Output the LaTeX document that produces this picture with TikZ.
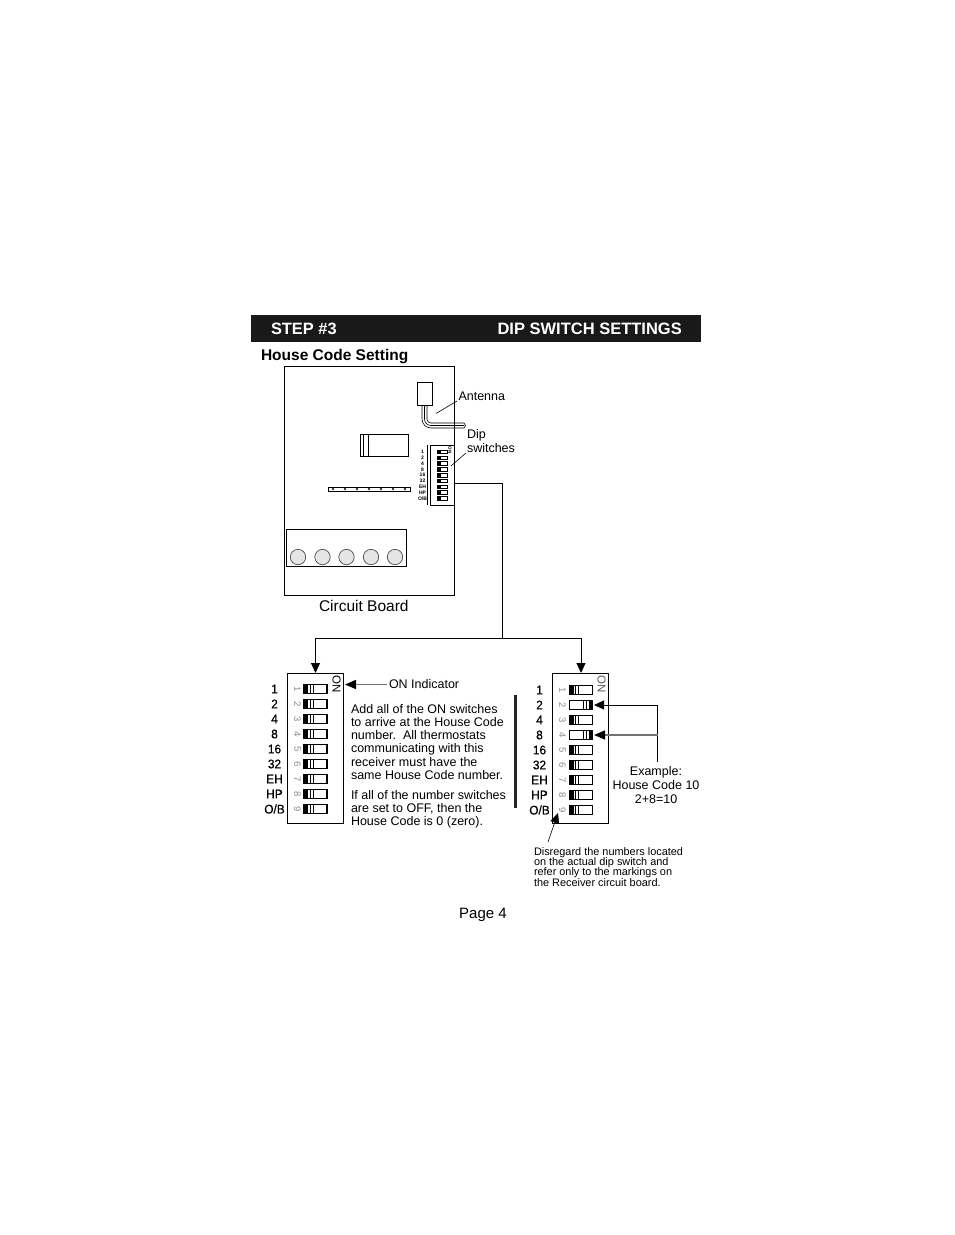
\documentclass[tikz,border=0pt]{standalone}
\usepackage{fontspec}
\setmainfont{Liberation Sans}
\newfontfamily\numfont[FakeBold=0.6,FakeStretch=0.95]{Liberation Sans}
\usetikzlibrary{arrows.meta}
\tikzset{
 lab/.style={inner sep=0pt,outer sep=0pt,anchor=base west},
 body/.style={lab,font=\fontsize{12.5}{13.3}\selectfont},
 sw/.style={draw=black,line width=1.1pt,fill=white},
 wire/.style={draw=black,line width=.9pt},
 arr/.style={wire,-{Triangle[length=10pt,width=9pt]}},
 grayarr/.style={draw=black!55,line width=1.4pt,-{Triangle[length=11pt,width=9pt,color=black,fill=black]}},
 num/.style={inner sep=0pt,font=\numfont\fontsize{12.5}{13}\selectfont},
 tinyd/.style={inner sep=0pt,font=\fontsize{9.5}{10}\selectfont,text=black!45,rotate=-90},
 box/.style={draw=black,line width=.9pt,fill=white,inner sep=0pt,outer sep=0pt,anchor=north west},
}
\newcommand{\stackl}[1]{\begin{tabular}[t]{@{}l@{}}#1\end{tabular}}
\newcommand{\stackc}[1]{\begin{tabular}[t]{@{}c@{}}#1\end{tabular}}
\newcommand{\dipbox}[3]{%
 \node[box,minimum width=56pt,minimum height=150pt] (#2box) at (#1,673) {};
 \foreach \t [count=\i from 0] in {1,2,4,8,16,32,EH,HP,O/B}{
  \pgfmathsetmacro{\yy}{#3+15*\i}
  \node[num] (#2lab\i) at ({#1-13},\yy) {\t};
  \node[tinyd] (#2dig\i) at ({#1+10},\yy) {\the\numexpr\i+1\relax};
 }
}
\newcommand{\swleft}[2]{%
 \draw[sw] (#1,{#2-4.5}) rectangle ({#1+23},{#2+4.5});
 \fill (#1,{#2-4.5}) rectangle ({#1+4},{#2+4.5});
 \draw[line width=1pt] ({#1+6},{#2-4.5}) -- ({#1+6},{#2+4.5}) ({#1+9},{#2-4.5}) -- ({#1+9},{#2+4.5});
}
\newcommand{\swright}[2]{%
 \draw[sw] (#1,{#2-4.5}) rectangle ({#1+23},{#2+4.5});
 \fill ({#1+19},{#2-4.5}) rectangle ({#1+23},{#2+4.5});
 \draw[line width=1pt] ({#1+14},{#2-4.5}) -- ({#1+14},{#2+4.5}) ({#1+17},{#2-4.5}) -- ({#1+17},{#2+4.5});
}
\begin{document}
\begin{tikzpicture}[x=1pt,y=-1pt]
\useasboundingbox (0,0) rectangle (954,1235);
\fill[white] (0,0) rectangle (954,1235);
% header
\fill[black!90] (251,315) rectangle (701,342);
\node[lab,text=white,font=\bfseries\fontsize{16.4}{17}\selectfont] (step) at (271,334) {STEP \#3};
\node[inner sep=0pt,anchor=base east,text=white,font=\bfseries\fontsize{16.5}{17}\selectfont] (dip) at (682,334) {DIP SWITCH SETTINGS};
\node[lab,font=\bfseries\fontsize{15.5}{16}\selectfont] (hc) at (261,360) {House Code Setting};
% board
\node[box,minimum width=170pt,minimum height=229pt] (board) at (284.5,366.5) {};
\node[box,minimum width=15.5pt,minimum height=23pt] (ant) at (417.3,382) {};
\draw[line width=.6pt] (422,405) -- (422,419) arc (180:90:9) -- (464,428);
\draw[line width=.6pt] (424.5,405) -- (424.5,419) arc (180:90:6.5) -- (464,425.5);
\draw[line width=.6pt] (427,405) -- (427,419) arc (180:90:4) -- (464,423);
\draw[line width=.6pt] (464,423) -- (465.5,425.5) -- (464,428);
% relay
\node[box,minimum width=48.5pt,minimum height=22pt] (relay) at (360,434) {};
\draw[line width=.7pt] (363,434) -- (363,456) (368,434) -- (368,456);
% strip
\node[box,minimum width=82pt,minimum height=4.5pt] (strip) at (328.3,487) {};
\foreach \x in {333,345,357,369,381,393,405}{
 \fill[black!80] (\x,489) circle (1.4pt);
}
% terminal
\node[box,minimum width=120pt,minimum height=37.5pt] (term) at (286.7,529.3) {};
\foreach \x in {298,322.5,346.5,371,395}{
 \draw[line width=.7pt,draw=black!70,fill=black!10] (\x,557) circle (7.7pt);
}
\node[lab,font=\fontsize{15.5}{16}\selectfont] (cb) at (319,611) {Circuit Board};
% mini dip
\node[box,minimum width=24.5pt,minimum height=60pt] (mini) at (430,445) {};
\draw[line width=.7pt] (427.3,445) -- (427.3,505);
\foreach \t [count=\i from 0] in {1,2,4,8,16,32,EH,HP,O/B}{
 \pgfmathsetmacro{\yy}{452+5.8*\i}
 \node[inner sep=0pt,font=\bfseries\fontsize{5}{5}\selectfont] (mlab\i) at (422.5,\yy) {\t};
 \draw[line width=.7pt,fill=white] (437.5,{\yy-1.8}) rectangle (447,{\yy+1.8});
 \fill (437.5,{\yy-1.8}) rectangle (441,{\yy+1.8});
}
\node[inner sep=0pt,rotate=-90,font=\bfseries\fontsize{4.5}{5}\selectfont] (mon) at (450,450) {ON};
% labels on board
\node[lab,font=\fontsize{12.5}{13}\selectfont] (antl) at (458.5,400) {Antenna};
\coordinate (antf) at (457,401);
\coordinate (antt) at (436,413.5);
\draw[line width=.6pt] (antf) -- (antt);
\node[lab,font=\fontsize{12.5}{14}\selectfont] (dipl) at (467,438) {\stackl{Dip\\switches}};
\coordinate (dipf) at (466,453);
\coordinate (dipt) at (451,466);
\draw[line width=.6pt] (dipf) -- (dipt);
% connectors
\coordinate (j1) at (502.5,483);
\coordinate (j2) at (502.5,638);
\coordinate (s0) at (455,483);
\draw[wire] (s0) -- (j1) -- (j2);
\coordinate (la) at (315.5,638);
\coordinate (ra) at (581,638);
\draw[wire] (la) -- (ra);
% dip left
\dipbox{287.5}{a}{689}
\foreach \i in {0,...,8}{\swleft{304}{689+15*\i}}
\node[rotate=-90,inner sep=0pt,font=\fontsize{11.5}{12}\selectfont] (aon) at (336.5,684) {ON};
\coordinate (at) at (315.5,673);
\draw[arr] (la) -- (at);
% dip right
\dipbox{552.5}{b}{690}
\swleft{569.5}{690}
\swright{569.5}{705}
\swleft{569.5}{720}
\swright{569.5}{735}
\foreach \i in {4,...,8}{\swleft{569.5}{690+15*\i}}
\node[rotate=-90,inner sep=0pt,font=\fontsize{11.5}{12}\selectfont,text=black!65] (bon) at (601.5,684.5) {ON};
\coordinate (bt) at (581,673);
\draw[arr] (ra) -- (bt);
% on indicator
\node[lab,font=\fontsize{12.5}{13}\selectfont] (onl) at (389,688.5) {ON Indicator};
\coordinate (onf) at (387,684.5);
\coordinate (ont) at (345,684.5);
\draw[grayarr] (onf) -- (ont);
% text
\node[body] (t1) at (351,713) {\stackl{Add all of the ON switches\\to arrive at the House Code\\number.\ \ All thermostats\\communicating with this\\receiver must have the\\same House Code number.}};
\node[body] (t2) at (351,799) {\stackl{If all of the number switches\\are set to OFF, then the\\House Code is 0 (zero).}};
\draw[line width=3pt,black!85] (515.5,695) -- (515.5,808);
% example
\coordinate (e1) at (657.5,705);
\coordinate (e2) at (657.5,735);
\coordinate (e3) at (657.5,762);
\coordinate (e4) at (594,705);
\coordinate (e5) at (594,735);
\draw[wire] (e3) -- (e1);
\draw[arr] (e1) -- (e4);
\draw[grayarr] (e2) -- (e5);
\node[inner sep=0pt,anchor=base,font=\fontsize{12.5}{14}\selectfont] (ex) at (656,775) {\stackc{Example:\\House Code 10\\2+8=10}};
% disregard
\coordinate (d1) at (548,842);
\coordinate (d2) at (558,813);
\draw[arr,line width=.6pt] (d1) -- (d2);
\node[lab,font=\fontsize{10.9}{10.35}\selectfont] (dis) at (534,855) {\vtop{\lineskiplimit=-20pt\hbox{Disregard the numbers located}\hbox{on the actual dip switch and}\hbox{refer only to the markings on}\hbox{the Receiver circuit board.}}};
\node[inner sep=0pt,anchor=base,font=\fontsize{15}{16}\selectfont] (pg) at (483,918.5) {Page 4};
\end{tikzpicture}
\end{document}
